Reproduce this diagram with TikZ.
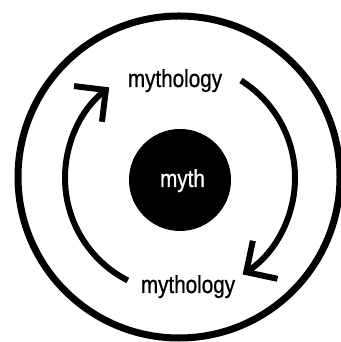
\documentclass[tikz,border=0pt]{standalone}
\usepackage{fontspec}
\setmainfont{Liberation Sans}[FakeStretch=0.84,FakeBold=0.8]
\usetikzlibrary{arrows.meta}

\begin{document}
\begin{tikzpicture}[x=1cm,y=1cm,
  roundarrow/.style={line width=.18cm,-{Straight Barb[length=.68cm,width=1.36cm]}},
  word/.style={anchor=base,font=\fontsize{21}{25}\selectfont}]
\path[use as bounding box] (0,0) rectangle (10.20,10.26);
\draw[line width=.21cm] (5.37,4.95) circle (4.83);
\node[circle,fill=black,minimum size=3.06cm,inner sep=0pt] (core) at (5.40,4.86) {};
\node[word,text=white] (myth) at (5.475,4.65) {myth};
\node[word] (upper) at (5.25,7.65) {mythology};
\node[word] (lower) at (5.64,1.47) {mythology};
\coordinate (hub) at (5.40,4.92);
\draw[roundarrow] ([shift={(58:3.45)}]hub) arc[start angle=58,end angle=-57,radius=3.45];
\draw[roundarrow] ([shift={(243:3.45)}]hub) arc[start angle=243,end angle=128,radius=3.45];
\end{tikzpicture}
\end{document}
